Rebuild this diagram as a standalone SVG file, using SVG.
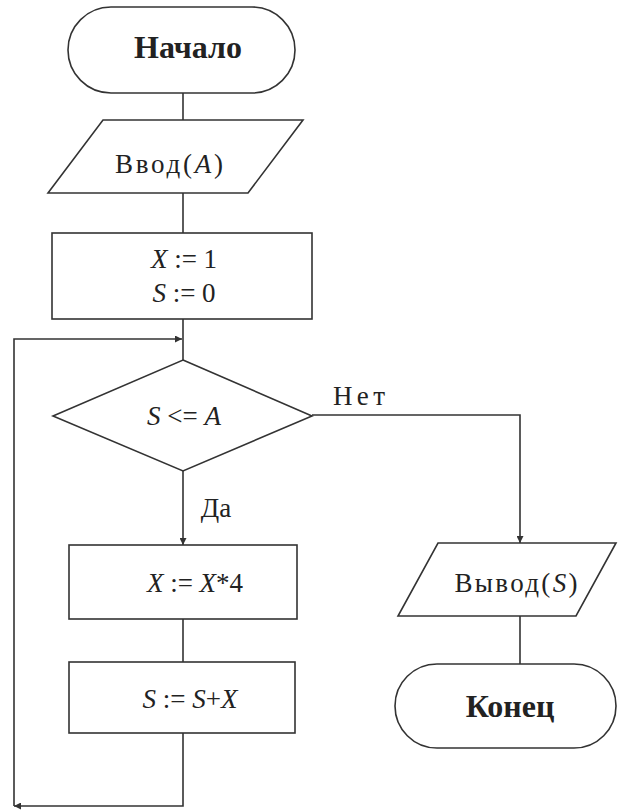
<svg xmlns="http://www.w3.org/2000/svg" width="618" height="812" viewBox="0 0 618 812">
<style>
.shape{fill:#fff;stroke:#333;stroke-width:1.6}
.edge{fill:none;stroke:#333;stroke-width:1.6}
text{font-family:"Liberation Serif","DejaVu Serif",serif;fill:#222;text-anchor:middle}
.b{font-weight:bold;font-size:32px}
.t{font-size:27px}
.i{font-style:italic}
</style>
<defs>
<marker id="arr" viewBox="0 0 10 10" refX="10" refY="5" markerWidth="9" markerHeight="7" markerUnits="userSpaceOnUse" orient="auto">
<path d="M0,0 L10,5 L0,10 z" fill="#333"/>
</marker>
</defs>
<rect width="618" height="812" fill="#fff"/>
<g id="connectors">
<line class="edge" x1="183" y1="93" x2="183" y2="120"/>
<line class="edge" x1="183" y1="193" x2="183" y2="233"/>
<line class="edge" x1="183" y1="319" x2="183" y2="360"/>
<path class="edge" d="M14,806 V339 H182" marker-end="url(#arr)"/>
<path class="edge" d="M183,471 V545" marker-end="url(#arr)"/>
<line class="edge" x1="183" y1="619" x2="183" y2="662"/>
<path class="edge" d="M183,733 V806 H14" marker-end="url(#arr)"/>
<path class="edge" d="M312,415 H520 V543" marker-end="url(#arr)"/>
<line class="edge" x1="520" y1="616" x2="520" y2="664"/>
<text class="t" x="359" y="405" textLength="52" lengthAdjust="spacing">Нет</text>
<text class="t" x="216" y="517">Да</text>
</g>
<g id="start">
<rect class="shape" x="68" y="7" width="227" height="86" rx="43" ry="43"/>
<text class="b" x="188" y="58">Начало</text>
</g>
<g id="input">
<polygon class="shape" points="103,120 303,120 248,193 48,193"/>
<text class="t" x="169" y="173" textLength="108" lengthAdjust="spacing">Ввод(<tspan class="i">A</tspan>)</text>
</g>
<g id="init">
<rect class="shape" x="52" y="233" width="260" height="86"/>
<text class="t" x="184" y="268"><tspan class="i">X</tspan> := 1</text>
<text class="t" x="184" y="302"><tspan class="i">S</tspan> := 0</text>
</g>
<g id="cond">
<polygon class="shape" points="183,360 312,416 183,471 53,416"/>
<text class="t" x="184" y="425"><tspan class="i">S</tspan> &lt;= <tspan class="i">A</tspan></text>
</g>
<g id="mult">
<rect class="shape" x="69" y="545" width="228" height="74"/>
<text class="t" x="195" y="592"><tspan class="i">X</tspan> := <tspan class="i">X</tspan>*4</text>
</g>
<g id="sum">
<rect class="shape" x="69" y="662" width="226" height="71"/>
<text class="t" x="190" y="708"><tspan class="i">S</tspan> := <tspan class="i">S</tspan>+<tspan class="i">X</tspan></text>
</g>
<g id="output">
<polygon class="shape" points="438,543 616,543 576,616 398,616"/>
<text class="t" x="516" y="592" textLength="123" lengthAdjust="spacing">Вывод(<tspan class="i">S</tspan>)</text>
</g>
<g id="end">
<rect class="shape" x="395" y="664" width="221" height="84" rx="42" ry="42"/>
<text class="b" x="510" y="717">Конец</text>
</g>
</svg>
